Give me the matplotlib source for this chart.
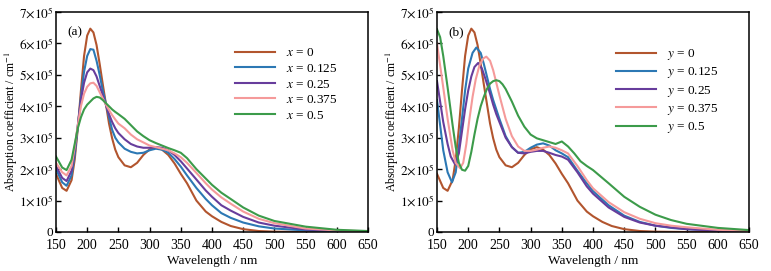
#!/usr/bin/env python3
# absorption spectra, two panels (a) x-doping and (b) y-doping

import matplotlib.pyplot as plt
from matplotlib.ticker import FuncFormatter

plt.rcParams["font.family"] = ["Liberation Serif", "DejaVu Serif"]
plt.rcParams["mathtext.fontset"] = "stix"

# ---- panel (a): values in units of 1e5 cm^-1
wl_a = [150, 160, 167, 175, 180, 185, 190, 195, 200, 205, 210, 215, 220, 225,
        231, 235, 240, 245, 250, 260, 270, 280, 290, 300, 310, 320, 330, 340,
        350, 360, 375, 390, 400, 415, 430, 450, 475, 500, 550, 600, 650]
a_x0 = [1.85, 1.40, 1.31, 1.65, 2.3, 3.3, 4.5, 5.6, 6.25, 6.47, 6.35, 5.95, 5.35, 4.7,
        3.95, 3.45, 2.98, 2.62, 2.38, 2.12, 2.06, 2.2, 2.45, 2.63, 2.7, 2.62, 2.45, 2.18,
        1.85, 1.55, 1.0, 0.65, 0.5, 0.32, 0.19, 0.09, 0.03, 0.01, 0.0, 0.0, 0.0]
a_x125 = [2.0, 1.58, 1.47, 1.8, 2.45, 3.35, 4.3, 5.1, 5.6, 5.82, 5.8, 5.45, 5.0, 4.5,
          4.0, 3.65, 3.25, 3.0, 2.85, 2.65, 2.55, 2.5, 2.52, 2.6, 2.65, 2.62, 2.52, 2.32,
          2.08, 1.8, 1.4, 1.05, 0.85, 0.6, 0.45, 0.3, 0.18, 0.11, 0.05, 0.02, 0.01]
a_x25 = [2.1, 1.72, 1.62, 1.95, 2.6, 3.4, 4.2, 4.75, 5.08, 5.2, 5.15, 4.95, 4.65, 4.35,
         3.98, 3.75, 3.5, 3.3, 3.15, 2.95, 2.8, 2.72, 2.68, 2.68, 2.7, 2.68, 2.6, 2.45,
         2.25, 2.02, 1.67, 1.32, 1.12, 0.85, 0.68, 0.48, 0.3, 0.2, 0.08, 0.04, 0.01]
a_x375 = [2.2, 1.9, 1.8, 2.1, 2.7, 3.4, 4.0, 4.4, 4.62, 4.73, 4.75, 4.65, 4.45, 4.25,
          4.02, 3.88, 3.72, 3.58, 3.45, 3.3, 3.1, 2.95, 2.85, 2.75, 2.7, 2.65, 2.6, 2.5,
          2.38, 2.2, 1.88, 1.55, 1.35, 1.1, 0.9, 0.65, 0.42, 0.28, 0.11, 0.05, 0.02]
a_x5 = [2.4, 2.05, 1.97, 2.3, 2.8, 3.3, 3.65, 3.9, 4.05, 4.15, 4.25, 4.3, 4.28, 4.2,
        4.08, 4.0, 3.9, 3.82, 3.75, 3.6, 3.4, 3.2, 3.05, 2.92, 2.83, 2.75, 2.67, 2.6,
        2.52, 2.35, 2.0, 1.7, 1.5, 1.25, 1.05, 0.78, 0.52, 0.35, 0.17, 0.07, 0.03]

# ---- panel (b): each curve read on its own wavelength grid
wl_b125 = [150, 160, 167, 174, 180, 185, 190, 195, 200, 207, 213, 220, 225, 230, 235,
           240, 245, 250, 260, 270, 280, 290, 300, 310, 320, 330, 340, 350, 360, 375,
           390, 400, 425, 450, 475, 500, 525, 550, 600, 650]
b_y125 = [4.2, 2.6, 1.9, 1.58, 1.9, 2.7, 3.6, 4.5, 5.2, 5.7, 5.87, 5.7, 5.35, 4.95, 4.55,
          4.2, 3.9, 3.6, 3.05, 2.7, 2.52, 2.55, 2.68, 2.78, 2.82, 2.75, 2.6, 2.5, 2.38, 1.95,
          1.55, 1.3, 0.85, 0.52, 0.32, 0.2, 0.13, 0.09, 0.04, 0.02]
wl_b25 = [150, 160, 167, 172, 179, 185, 190, 195, 200, 205, 210, 216, 222, 228, 235,
          240, 245, 250, 260, 270, 280, 290, 300, 310, 320, 330, 340, 350, 360, 375,
          390, 400, 425, 450, 475, 500, 550, 600, 650]
b_y25 = [4.8, 3.5, 2.8, 2.4, 2.15, 2.5, 3.2, 3.9, 4.5, 4.95, 5.25, 5.38, 5.2, 4.85, 4.4,
         4.05, 3.75, 3.5, 3.0, 2.7, 2.52, 2.5, 2.55, 2.58, 2.58, 2.52, 2.45, 2.4, 2.3, 1.9,
         1.45, 1.22, 0.78, 0.48, 0.3, 0.2, 0.09, 0.04, 0.02]
wl_b375 = [150, 160, 167, 175, 180, 187, 192, 197, 202, 207, 212, 218, 224, 229, 235,
           240, 245, 250, 260, 270, 280, 290, 300, 310, 320, 330, 340, 350, 360, 375,
           390, 400, 425, 450, 475, 500, 525, 550, 600, 650]
b_y375 = [6.0, 4.6, 3.6, 2.6, 2.2, 2.03, 2.2, 2.8, 3.6, 4.3, 4.85, 5.3, 5.52, 5.58, 5.45,
          5.15, 4.75, 4.35, 3.6, 3.05, 2.72, 2.58, 2.58, 2.62, 2.68, 2.72, 2.68, 2.6, 2.5, 2.1,
          1.65, 1.39, 0.95, 0.63, 0.42, 0.28, 0.2, 0.15, 0.07, 0.03]
wl_b5 = [150, 155, 160, 167, 175, 180, 185, 190, 195, 200, 205, 210, 215, 220, 225,
         230, 235, 240, 245, 250, 255, 260, 270, 280, 290, 300, 310, 320, 330, 340,
         350, 360, 370, 380, 390, 400, 425, 450, 475, 500, 525, 550, 600, 650]
b_y5 = [6.45, 6.2, 5.6, 4.6, 3.4, 2.7, 2.2, 1.98, 1.95, 2.1, 2.55, 3.1, 3.6, 4.0, 4.3,
        4.55, 4.72, 4.8, 4.83, 4.8, 4.7, 4.55, 4.15, 3.7, 3.35, 3.1, 2.98, 2.92, 2.86, 2.8,
        2.88, 2.72, 2.5, 2.25, 2.1, 1.97, 1.55, 1.12, 0.8, 0.55, 0.38, 0.26, 0.13, 0.06]

labels = ["0", "0.125", "0.25", "0.375", "0.5"]
colors = ["#b2552e", "#2c78b4", "#673d9c", "#f59a9a", "#3c9b4a"]

fig = plt.figure(figsize=(7.71, 2.71), dpi=100)
ax1 = fig.add_axes([0.0726, 0.144, 0.4047, 0.8117])
ax2 = fig.add_axes([0.5668, 0.144, 0.4047, 0.8117])

panels = [
    (ax1, "(a)", "x", [(wl_a, a_x0), (wl_a, a_x125), (wl_a, a_x25), (wl_a, a_x375), (wl_a, a_x5)]),
    (ax2, "(b)", "y", [(wl_a, a_x0), (wl_b125, b_y125), (wl_b25, b_y25), (wl_b375, b_y375), (wl_b5, b_y5)]),
]

fmt = FuncFormatter(lambda v, p: "0" if v == 0 else r"$%d{\times}10^5$" % round(v))

for ax, tag, var, series in panels:
    for (wl, vals), lab, c in zip(series, labels, colors):
        ax.plot(wl, vals, color=c, lw=1.5, label=r"$%s$ = %s" % (var, lab))
    ax.set_xlim(150, 650)
    ax.set_ylim(0, 7)
    ax.set_xticks(range(150, 651, 50))
    ax.set_yticks(range(0, 8))
    ax.yaxis.set_major_formatter(fmt)
    ax.tick_params(direction="in", length=3.5, width=1, labelsize=9.5)
    ax.tick_params(axis="x", pad=5, labelsize=10)
    ax.tick_params(axis="y", pad=2)
    for s in ax.spines.values():
        s.set_linewidth(1.1)
    ax.set_xlabel("Wavelength / nm", fontsize=9.5, labelpad=2)
    ax.set_ylabel(r"Absorption coefficient / cm$^{-1}$", fontsize=8.5)
    ax.yaxis.set_label_coords(-0.115, 0.5)
    ax.text(0.035, 0.895, tag, transform=ax.transAxes, fontsize=9.5)
    ax.legend(loc="upper left", bbox_to_anchor=(0.575, 0.84), frameon=False,
              fontsize=9.5, handlelength=3.0, handletextpad=0.8, labelspacing=0.25,
              borderpad=0, borderaxespad=0)

fig.savefig("out.png", dpi=100)
